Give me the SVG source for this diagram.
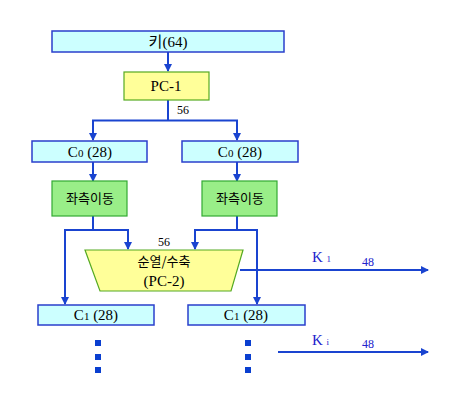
<svg xmlns="http://www.w3.org/2000/svg" width="452" height="408" viewBox="0 0 452 408">
<defs>
<marker id="ah" markerWidth="8" markerHeight="8" viewBox="0 0 8 8" refX="7" refY="4" orient="auto" markerUnits="userSpaceOnUse">
<path d="M0,0 L8,4 L0,8 z" fill="#1a44d0"/>
</marker>
<style>
.cyan{fill:#ccffff;stroke:#2a3fcc;stroke-width:1.5}
.yel{fill:#ffff99;stroke:#55aa22;stroke-width:1.2}
.grn{fill:#99ee88;stroke:#33aa33;stroke-width:1.2}
.ln{fill:none;stroke:#1a44d0;stroke-width:2}
.t{font-family:"Liberation Serif","Noto Sans CJK KR",serif;font-size:15px;fill:#000;text-anchor:middle}
.k{font-family:"Noto Sans CJK KR","Liberation Sans",sans-serif;font-size:13px;fill:#000;text-anchor:middle}
.n{font-family:"Liberation Serif",serif;font-size:12px;fill:#000}
.b{font-family:"Liberation Serif",serif;fill:#2222cc}
.dot{fill:#0a3fd0}
</style>
</defs>
<g id="connectors">
<path class="ln" d="M168,52 V71" marker-end="url(#ah)"/>
<path class="ln" d="M168,100 V120"/>
<path class="ln" d="M93,140 V120.5 H237 V140" marker-end="url(#ah)"/>
<path class="ln" d="M93,120.5 V140" marker-end="url(#ah)"/>
<path class="ln" d="M93,162 V181" marker-end="url(#ah)"/>
<path class="ln" d="M237,162 V181" marker-end="url(#ah)"/>
<path class="ln" d="M93,216 V230 H128 V249" marker-end="url(#ah)"/>
<path class="ln" d="M93,230 H65 V304" marker-end="url(#ah)"/>
<path class="ln" d="M237,216 V230 H195 V249" marker-end="url(#ah)"/>
<path class="ln" d="M237,230 H257 V304" marker-end="url(#ah)"/>
<path class="ln" d="M240,270 H428" marker-end="url(#ah)"/>
<path class="ln" d="M278,352 H428" marker-end="url(#ah)"/>
</g>
<g id="key"><rect class="cyan" x="52" y="31" width="232" height="21"/><text class="t" x="168" y="47">키(64)</text></g>
<g id="pc1"><rect class="yel" x="124" y="72" width="85" height="28"/><text class="t" x="166" y="91">PC-1</text></g>
<text class="n" x="177" y="114">56</text>
<g id="c0-left"><rect class="cyan" x="32" y="141" width="115" height="21"/><text class="t" x="90" y="157">C<tspan font-size="11">0</tspan> (28)</text></g>
<g id="c0-right"><rect class="cyan" x="182" y="141" width="116" height="21"/><text class="t" x="240" y="157">C<tspan font-size="11">0</tspan> (28)</text></g>
<g id="shift-left"><rect class="grn" x="52" y="181" width="75" height="35"/><text class="k" x="90" y="203">좌측이동</text></g>
<g id="shift-right"><rect class="grn" x="202" y="181" width="75" height="35"/><text class="k" x="240" y="203">좌측이동</text></g>
<g id="pc2"><path class="yel" d="M85,250 H243 L231,291 H100 Z"/><text class="k" x="164" y="266">순열/수축</text><text class="t" x="164" y="286" font-size="13">(PC-2)</text></g>
<text class="n" x="158" y="246" font-size="13">56</text>
<g id="c1-left"><rect class="cyan" x="38" y="305" width="116" height="20"/><text class="t" x="96" y="320">C<tspan font-size="11">1</tspan> (28)</text></g>
<g id="c1-right"><rect class="cyan" x="188" y="305" width="117" height="20"/><text class="t" x="246" y="320">C<tspan font-size="11">1</tspan> (28)</text></g>
<text class="b" x="312" y="262" font-size="15">K <tspan font-size="9">1</tspan></text>
<text class="b" x="362" y="266" font-size="12">48</text>
<text class="b" x="312" y="345" font-size="15">K <tspan font-size="9">i</tspan></text>
<text class="b" x="362" y="348" font-size="12">48</text>
<g id="dots-left"><rect class="dot" x="95" y="340" width="6" height="6"/><rect class="dot" x="95" y="354" width="6" height="6"/><rect class="dot" x="95" y="367" width="6" height="6"/></g>
<g id="dots-right"><rect class="dot" x="245" y="340" width="6" height="6"/><rect class="dot" x="245" y="354" width="6" height="6"/><rect class="dot" x="245" y="367" width="6" height="6"/></g>
</svg>
